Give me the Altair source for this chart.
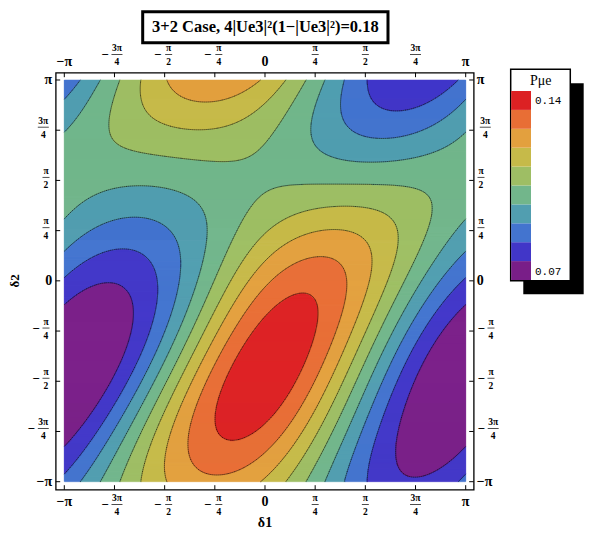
import numpy as np
import pandas as pd
import altair as alt

alt.data_transformers.disable_max_rows()
PI = np.pi

# ---------------- values ----------------
# contour crossings: (d1/pi, d2/pi) on the boundary between
# band k-1 and band k  (band 0 = purple ... band 9 = red)
B9 = [(-0.249, -0.718), (-0.241, -0.602), (-0.199, -0.469), (-0.125, -0.334), (-0.025, -0.235),
      (0.140, -0.178), (0.204, -0.270), (0.189, -0.434), (0.140, -0.568), (0.058, -0.668),
      (-0.025, -0.718), (-0.141, -0.792), (-0.224, -0.784)]
B8 = [(0.108, 0.095), (0.258, 0.114), (0.388, 0.029), (-0.324, -0.494)]
B7 = [(-0.473, 1.0), (-0.040, 1.0), (-0.259, 0.900), (-0.025, 0.120), (0.140, 0.245),
      (0.357, 0.263), (0.473, 0.164), (0.507, 0.029), (-0.383, -0.494)]
B6 = [(-0.025, 0.228), (0.140, 0.344), (0.388, 0.363), (0.606, 0.328), (0.656, 0.228),
      (0.656, 0.029), (-0.433, -0.494), (-0.598, 1.0), (0.040, 1.0)]
B5 = [(-0.025, 0.394), (0.040, 0.452), (0.224, 0.477), (0.473, 0.477), (0.688, 0.452),
      (0.772, 0.412), (0.797, 0.313), (0.787, 0.195), (0.756, 0.029), (-0.483, -0.494),
      (-0.762, 1.0), (0.224, 1.0)]
B4 = [(-1.0, 0.756), (-1.0, 0.328), (0.307, 1.0), (0.239, 0.743), (0.258, 0.676), (0.339, 0.618),
      (0.523, 0.590), (0.723, 0.612), (0.905, 0.693), (1.0, 0.761), (-0.857, 0.403),
      (-0.689, 0.437), (-0.440, 0.437), (-0.324, 0.394), (-0.290, 0.313), (-0.284, 0.164),
      (-0.290, -0.021), (-0.538, -0.494), (-0.988, 0.760), (-0.863, 1.0)]
B3 = [(-1.0, 0.900), (-1.0, 0.164), (0.388, 1.0), (0.388, 0.861), (0.438, 0.743), (0.606, 0.718),
      (0.806, 0.743), (1.0, 0.842), (-0.857, 0.263), (-0.689, 0.313), (-0.523, 0.295),
      (-0.440, 0.213), (-0.433, -0.021), (-0.598, -0.494), (-1.0, 0.934), (-0.947, 1.0)]
B2 = [(-1.0, 0.014), (-1.0, -0.952), (0.513, 1.0), (0.986, 1.0), (0.748, 0.861), (0.538, 0.910),
      (0.672, 0.861), (0.806, 0.867), (0.937, 0.925), (-0.857, 0.129), (-0.722, 0.170),
      (-0.608, 0.145), (-0.573, 0.029), (-0.663, -0.494)]
B1 = [(-0.772, -0.001), (-0.698, -0.070), (-0.689, -0.135), (-0.708, -0.304), (-0.737, -0.469),
      (-0.807, -0.633), (-0.907, -0.753), (-1.0, -0.792), (-1.0, -0.085), (1.0, -0.120),
      (0.905, -0.253), (0.806, -0.403), (0.706, -0.568), (0.656, -0.718), (0.656, -0.832),
      (0.706, -0.932), (0.756, -0.975)]
BOUNDARIES = {1: B1, 2: B2, 3: B3, 4: B4, 5: B5, 6: B6, 7: B7, 8: B8, 9: B9}
CONTOURS = [0.07, 0.07875, 0.0875, 0.09625, 0.105, 0.11375, 0.1225, 0.13125, 0.14]
COLORS = ["#791E88", "#4136C8", "#4374CF", "#519EB0", "#72B68B",
          "#9EBE64", "#C6BA49", "#E3A03E", "#E86E35", "#DC2123"]
LEGEND_TITLE = "P\u03bce"
LEGEND_LABELS = ["0.14", "0.07"]
TICK_LABELS = ["\u2212\u03c0", "\u22123\u03c0/4", "\u2212\u03c0/2", "\u2212\u03c0/4", "0",
               "\u03c0/4", "\u03c0/2", "3\u03c0/4", "\u03c0"]
TITLE = "3+2 Case, 4|Ue3|\u00b2(1\u2212|Ue3|\u00b2)=0.18"
X_TITLE = "\u03b41"
Y_TITLE = "\u03b42"

# ---------------- layout ----------------
W, H = 418, 417
PXX = 401.4 / (2 * PI)
PXY = 401.7 / (2 * PI)
XDOM = [-PI - 8.6 / PXX, PI + 8.0 / PXX]
YDOM = [-PI - 8.0 / PXY, PI + 7.3 / PXY]
SERIF = "Liberation Serif"


def basis(d1, d2):
    cols = [np.ones_like(d1)]
    for arg in [d1, d2, d1 - d2, d1 + d2, 2 * d1, 2 * d2, 2 * (d1 - d2)]:
        cols += [np.cos(arg), np.sin(arg)]
    return np.stack(cols, axis=-1)


# smooth periodic surface through the read contour crossings (band index units)
pts = np.array([(p[0] * PI, p[1] * PI, k) for k, lst in BOUNDARIES.items() for p in lst])
Amat = basis(pts[:, 0], pts[:, 1])
ridge = np.diag([0.0] + [0.0] * 8 + [0.6] * 6)
coef = np.linalg.solve(Amat.T @ Amat + ridge, Amat.T @ pts[:, 2])


def field(d1, d2):
    return basis(d1, d2) @ coef


# ---- filled bands (row runs) ----
NX = NY = 402
xe = np.linspace(-PI, PI, NX + 1)
ye = np.linspace(-PI, PI, NY + 1)
xc = (xe[:-1] + xe[1:]) / 2
yc = (ye[:-1] + ye[1:]) / 2
XC, YC = np.meshgrid(xc, yc)
LEV = np.clip(np.floor(field(XC, YC)), 0, 9).astype(int)
ox, oy = 0.5 / PXX, 0.5 / PXY
recs = []
for j in range(NY):
    L = LEV[j]
    cuts = np.flatnonzero(np.diff(L)) + 1
    starts = np.r_[0, cuts]
    ends = np.r_[cuts, NX]
    for s, e in zip(starts, ends):
        recs.append((xe[s], min(xe[e] + ox, PI), ye[j], min(ye[j + 1] + oy, PI), int(L[s])))
bands = pd.DataFrame(recs, columns=["x", "x2", "y", "y2", "lev"])

# ---- contour lines (marching squares) ----
G = 201
gx = np.linspace(-PI, PI, G)
gy = np.linspace(-PI, PI, G)
GX, GY = np.meshgrid(gx, gy)
F = field(GX, GY)
segs = []
for t in range(1, 10):
    v00, v10, v01, v11 = F[:-1, :-1], F[:-1, 1:], F[1:, :-1], F[1:, 1:]
    hi = (v00 > t).astype(int) + (v10 > t) + (v01 > t) + (v11 > t)
    for j, i in np.argwhere((hi > 0) & (hi < 4)):
        a, b, c, d = v00[j, i], v10[j, i], v11[j, i], v01[j, i]
        x0, x1, y0, y1 = gx[i], gx[i + 1], gy[j], gy[j + 1]
        e = {}
        if (a > t) != (b > t):
            e["b"] = (x0 + (x1 - x0) * (t - a) / (b - a), y0)
        if (b > t) != (c > t):
            e["r"] = (x1, y0 + (y1 - y0) * (t - b) / (c - b))
        if (d > t) != (c > t):
            e["t"] = (x0 + (x1 - x0) * (t - d) / (c - d), y1)
        if (a > t) != (d > t):
            e["l"] = (x0, y0 + (y1 - y0) * (t - a) / (d - a))
        ks = list(e.keys())
        if len(ks) == 2:
            pairs = [(ks[0], ks[1])]
        elif len(ks) == 4:
            cen = (a + b + c + d) / 4
            pairs = [("b", "r"), ("t", "l")] if (cen > t) == (a > t) else [("l", "b"), ("r", "t")]
        else:
            pairs = []
        for p, q in pairs:
            segs.append((e[p][0], e[p][1], e[q][0], e[q][1]))
lines = pd.DataFrame(segs, columns=["x", "y", "x2", "y2"])

xs = alt.Scale(domain=XDOM, nice=False, zero=False)
ys = alt.Scale(domain=YDOM, nice=False, zero=False)
cs = alt.Scale(domain=list(range(10)), range=COLORS)

heat = alt.Chart(bands).mark_rect(strokeWidth=0.5).encode(
    x=alt.X("x:Q", scale=xs, axis=None), x2="x2:Q",
    y=alt.Y("y:Q", scale=ys, axis=None), y2="y2:Q",
    color=alt.Color("lev:O", scale=cs, legend=None),
    stroke=alt.Color("lev:O", scale=cs, legend=None),
)
cont = alt.Chart(lines).mark_rule(color="#000000", opacity=0.45, strokeWidth=0.8,
                                  strokeCap="round").encode(
    x=alt.X("x:Q", scale=xs, axis=None), x2="x2:Q",
    y=alt.Y("y:Q", scale=ys, axis=None), y2="y2:Q",
)

# ---- ticks and labels ----
trows = []
for k, lab in zip(range(-4, 5), TICK_LABELS):
    neg = lab.startswith("\u2212")
    body = lab[1:] if neg else lab
    if "/" in body:
        num, den = body.split("/")
        kind = "frac"
    else:
        num, den, kind = body, "", "big"
    trows.append(dict(v=k * PI / 4, lab=lab, num=num, den=den, neg=neg,
                      wide=len(num) > 1, kind=kind))
ticks = pd.DataFrame(trows)

layers = [heat, cont]
XT = alt.X("v:Q", scale=xs, axis=None)
YT = alt.Y("v:Q", scale=ys, axis=None)

for y1, y2 in [(0, 4.5), (H, H - 4.5)]:
    layers.append(alt.Chart(ticks).mark_rule(color="black", strokeWidth=1).encode(
        x=XT, y=alt.value(y1), y2=alt.value(y2)))
for x1, x2 in [(0, 4.5), (W, W - 4.5)]:
    layers.append(alt.Chart(ticks).mark_rule(color="black", strokeWidth=1).encode(
        y=YT, x=alt.value(x1), x2=alt.value(x2)))

big = ticks[ticks.kind == "big"]
frac = ticks[ticks.kind == "frac"]
BIGF = dict(font=SERIF, fontWeight="bold", fontSize=14, baseline="middle")
SMF = dict(font=SERIF, fontWeight="bold", fontSize=9.5, baseline="middle")
MINF = dict(font=SERIF, fontWeight="bold", fontSize=13, baseline="middle")

for ybig, ybar in [(-10.7, -18.2), (429.0, 431.8)]:
    layers.append(alt.Chart(big).mark_text(align="center", **BIGF).encode(
        x=XT, y=alt.value(ybig), text="lab:N"))
    for neg in [False, True]:
        for wide in [False, True]:
            sub = frac[(frac.neg == neg) & (frac.wide == wide)]
            if len(sub) == 0:
                continue
            fdx = (2.5 if wide else 4.0) if neg else 0.0
            layers.append(alt.Chart(sub).mark_text(align="center", dx=fdx, **SMF).encode(
                x=XT, y=alt.value(ybar - 6.5), text="num:N"))
            layers.append(alt.Chart(sub).mark_text(align="center", dx=fdx, **SMF).encode(
                x=XT, y=alt.value(ybar + 7.8), text="den:N"))
            layers.append(alt.Chart(sub).mark_tick(orient="horizontal", size=(11 if wide else 7),
                                                   thickness=1, color="black", xOffset=fdx).encode(
                x=XT, y=alt.value(ybar)))
            if neg:
                layers.append(alt.Chart(sub).mark_text(align="center", dx=(-9.5 if wide else -7.0),
                                                       text="\u2212", **MINF).encode(
                    x=XT, y=alt.value(ybar + 0.8)))

for side in ["left", "right"]:
    if side == "left":
        layers.append(alt.Chart(big).mark_text(align="right", **BIGF).encode(
            y=YT, x=alt.value(-3.5), text="lab:N"))
    else:
        layers.append(alt.Chart(big).mark_text(align="left", **BIGF).encode(
            y=YT, x=alt.value(421.0), text="lab:N"))
    for neg in [False, True]:
        for wide in [False, True]:
            sub = frac[(frac.neg == neg) & (frac.wide == wide)]
            if len(sub) == 0:
                continue
            if side == "left":
                fx = -12.4 if wide else -9.7
                mx = fx - (12.0 if wide else 10.0)
            else:
                if neg:
                    mx = 425.6
                    fx = 437.5 if wide else 435.3
                else:
                    fx = 429.6 if wide else 425.3
                    mx = 0
            layers.append(alt.Chart(sub).mark_text(align="center", dy=-9.5, **SMF).encode(
                y=YT, x=alt.value(fx), text="num:N"))
            layers.append(alt.Chart(sub).mark_text(align="center", dy=5.0, **SMF).encode(
                y=YT, x=alt.value(fx), text="den:N"))
            layers.append(alt.Chart(sub).mark_tick(orient="horizontal", size=(11 if wide else 7),
                                                   thickness=1, color="black", yOffset=-3).encode(
                y=YT, x=alt.value(fx)))
            if neg:
                layers.append(alt.Chart(sub).mark_text(align="center", dy=-2, text="\u2212",
                                                       **MINF).encode(
                    y=YT, x=alt.value(mx)))

one = pd.DataFrame({"v": [0.0]})
layers.append(alt.Chart(one).mark_text(text=X_TITLE, align="center", **BIGF).encode(
    x=XT, y=alt.value(450.3)))
layers.append(alt.Chart(one).mark_text(text=Y_TITLE, align="center", angle=270, font=SERIF,
                                       fontWeight="bold", fontSize=13, baseline="middle").encode(
    y=YT, x=alt.value(-41.2)))

layers.append(alt.Chart(one).mark_rect(fill="white", stroke="black", strokeWidth=3).encode(
    x=alt.value(87), x2=alt.value(332.3), y=alt.value(-61), y2=alt.value(-30)))
layers.append(alt.Chart(one).mark_text(text=TITLE, font=SERIF, fontWeight="bold", fontSize=16.5,
                                       align="center", baseline="middle").encode(
    x=alt.value(209.7), y=alt.value(-45.5)))

layers.append(alt.Chart(one).mark_rect(fill="black").encode(
    x=alt.value(467.6), x2=alt.value(528), y=alt.value(10.6), y2=alt.value(221.6)))
layers.append(alt.Chart(one).mark_rect(fill="white", stroke="black", strokeWidth=1.5).encode(
    x=alt.value(455), x2=alt.value(514.6), y=alt.value(-3.4), y2=alt.value(208)))
sw = pd.DataFrame({"lev": list(range(10))})
layers.append(alt.Chart(sw).mark_rect().encode(
    x=alt.value(455.5), x2=alt.value(475.3),
    y=alt.Y("lev:O", scale=alt.Scale(domain=list(range(9, -1, -1)), range=[18.3, 207.3],
                                     paddingInner=0, paddingOuter=0), axis=None),
    color=alt.Color("lev:O", scale=cs, legend=None)))
layers.append(alt.Chart(one).mark_text(text=LEGEND_TITLE, font=SERIF, fontSize=14,
                                       align="center", baseline="middle").encode(
    x=alt.value(485), y=alt.value(8.5)))
layers.append(alt.Chart(one).mark_text(text=LEGEND_LABELS[0], font="Liberation Mono", fontSize=11,
                                       align="left", baseline="middle").encode(
    x=alt.value(479.3), y=alt.value(28.3)))
layers.append(alt.Chart(one).mark_text(text=LEGEND_LABELS[1], font="Liberation Mono", fontSize=11,
                                       align="left", baseline="middle").encode(
    x=alt.value(479.3), y=alt.value(199)))

chart = alt.layer(*layers).resolve_scale(y="independent").properties(
    width=W, height=H,
    autosize=alt.AutoSizeParams(type="none"),
    padding={"left": 47.7, "top": 64.7, "right": 116, "bottom": 44},
    background="white",
).configure_view(stroke="black", strokeWidth=1.3)

chart.save("out.html", embed_options={"renderer": "svg", "actions": False})
